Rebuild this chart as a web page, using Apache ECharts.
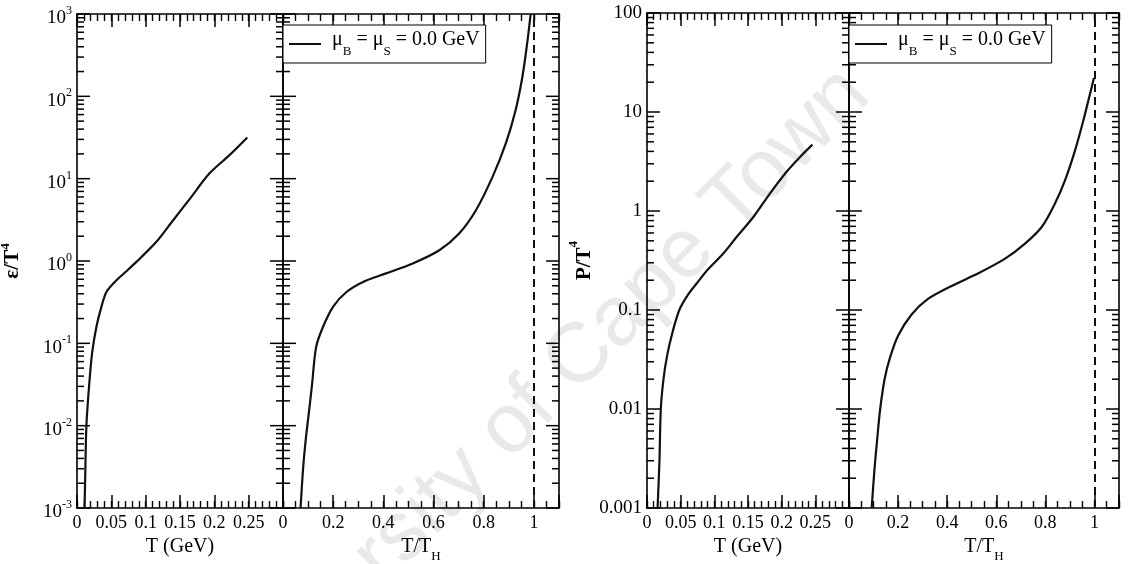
<!DOCTYPE html>
<html>
<head>
<meta charset="utf-8">
<script src="https://cdn.jsdelivr.net/npm/echarts@6/dist/echarts.min.js"></script>
<style>
html,body{margin:0;padding:0;background:#fff;}
#chart{width:1137px;height:564px;}
</style>
</head>
<body>
<div id="chart"></div>
<script>
// ---------------- data ----------------
// (a) HRGM, energy density eps/T^4 vs T (GeV)
const epsHrgmT = [0.011, 0.012, 0.0137, 0.0175, 0.0219, 0.0282, 0.0355, 0.0428, 0.055, 0.067, 0.0865, 0.1156, 0.14, 0.164, 0.193, 0.222, 0.248];
const epsHrgm  = [0.001, 0.0025, 0.01, 0.0295, 0.075, 0.158, 0.277, 0.42, 0.557, 0.69, 0.975, 1.71, 3.13, 5.64, 11.6, 19.3, 31.7];
// (b) EHRGM, eps/T^4 vs T/T_H
const epsEhrgmU = [0.070, 0.080, 0.090, 0.100, 0.115, 0.132, 0.160, 0.200, 0.253, 0.319, 0.411, 0.517, 0.623, 0.702, 0.769, 0.835, 0.888, 0.927, 0.954, 0.973, 0.987];
const epsEhrgm  = [0.001, 0.003, 0.0065, 0.012, 0.03, 0.09, 0.16, 0.28, 0.42, 0.557, 0.707, 0.933, 1.35, 2.16, 4.14, 10.5, 26.8, 67.9, 172, 437, 1000];
// (a) HRGM, pressure P/T^4 vs T (GeV)
const pHrgmT = [0.0157, 0.0185, 0.0205, 0.0245, 0.030, 0.038, 0.048, 0.060, 0.075, 0.090, 0.113, 0.133, 0.158, 0.1825, 0.207, 0.227, 0.2457];
const pHrgm  = [0.001, 0.003, 0.01, 0.02, 0.035, 0.06, 0.1, 0.14, 0.19, 0.255, 0.37, 0.546, 0.87, 1.5, 2.48, 3.5, 4.68];
// (b) EHRGM, P/T^4 vs T/T_H
const pEhrgmU = [0.0924, 0.104, 0.115, 0.127, 0.145, 0.167, 0.200, 0.255, 0.323, 0.418, 0.527, 0.636, 0.717, 0.785, 0.839, 0.880, 0.921, 0.955, 0.982, 0.998];
const pEhrgm  = [0.001, 0.0025, 0.005, 0.01, 0.02, 0.033, 0.055, 0.09, 0.13, 0.175, 0.235, 0.33, 0.468, 0.689, 1.19, 2.04, 4.1, 8.24, 15.3, 22];
// Hagedorn temperature marker (T/T_H = 1)
const hagedornU = 1;

// tick labels
const xTickLabelsT = ['0', '0.05', '0.1', '0.15', '0.2', '0.25'];
const xTickLabelsU = ['0', '0.2', '0.4', '0.6', '0.8', '1'];
const epsTickExp   = ['-3', '-2', '-1', '0', '1', '2', '3'];
const pTickLabels  = ['0.001', '0.01', '0.1', '1', '10', '100'];

const seriesName = 'muB_eq_muS_0';
const legendRich = '{m|μ}{sub|B}{m| = μ}{sub|S}{m| = 0.0 GeV}';

// ---------------- layout / style ----------------
const FONT = '"Liberation Serif", "Times New Roman", serif';
const INK = '#000';
const grids = [
  {left: 77,  top: 14, width: 206, height: 494},
  {left: 283, top: 14, width: 276, height: 494},
  {left: 647, top: 13, width: 202, height: 495},
  {left: 849, top: 13, width: 270, height: 495}
];
const xExt = [[0, 0.3], [0, 1.1], [0, 0.3], [0, 1.1]];
const yExt = [[1e-3, 1e3], [1e-3, 1e3], [1e-3, 1e2], [1e-3, 1e2]];
const majInt = [0.05, 0.2, 0.05, 0.2];
const minInt = [0.01, 0.05, 0.01, 0.05];
const xLabelArr = [xTickLabelsT, xTickLabelsU, xTickLabelsT, xTickLabelsU];
// panels (b) share their left edge with panel (a): ticks drawn on both sides there
const sharedLeft = [false, true, false, true];
const MAJ = 13, MIN = 7;

function xFormatter(g) {
  return function (v) {
    const k = Math.round(v / majInt[g]);
    if (Math.abs(k * majInt[g] - v) > 1e-6) return '';
    const s = xLabelArr[g][k];
    return s === undefined ? '' : s;
  };
}

const xNameT = 'T (GeV)';
const xNameU = '{m|T/T}{sub|H}';
const xNames = [xNameT, xNameU, xNameT, xNameU];
const xNameGap = [17, 21, 17, 21];

const frameLine = {show: true, onZero: false, lineStyle: {color: INK, width: 1.6}};
const xAxes = [];
for (let g = 0; g < 4; g++) {
  const base = {
    gridIndex: g, type: 'value', min: xExt[g][0], max: xExt[g][1],
    splitLine: {show: false},
    axisLine: {show: false, onZero: false}
  };
  // bottom major (labels + name)
  xAxes.push(Object.assign({}, base, {
    position: 'bottom', interval: majInt[g],
    axisLine: frameLine,
    axisTick: {show: true, inside: true, length: MAJ, lineStyle: {color: INK, width: 1.5}},
    axisLabel: {show: true, margin: 6, color: INK, fontFamily: FONT, fontSize: 18, formatter: xFormatter(g)},
    name: xNames[g], nameLocation: 'middle', nameGap: xNameGap[g],
    nameTextStyle: {
      color: INK, fontFamily: FONT, fontSize: 20,
      rich: {
        m: {fontFamily: FONT, fontSize: 20, color: INK, lineHeight: 26, verticalAlign: 'top'},
        sub: {fontFamily: FONT, fontSize: 13, color: INK, lineHeight: 26, verticalAlign: 'bottom'}
      }
    }
  }));
  // bottom minor
  xAxes.push(Object.assign({}, base, {
    position: 'bottom', interval: minInt[g],
    axisTick: {show: true, inside: true, length: MIN, lineStyle: {color: INK, width: 1.4}},
    axisLabel: {show: false}
  }));
  // top major (frame)
  xAxes.push(Object.assign({}, base, {
    position: 'top', interval: majInt[g],
    axisLine: frameLine,
    axisTick: {show: true, inside: true, length: MAJ, lineStyle: {color: INK, width: 1.5}},
    axisLabel: {show: false}
  }));
  // top minor
  xAxes.push(Object.assign({}, base, {
    position: 'top', interval: minInt[g],
    axisTick: {show: true, inside: true, length: MIN, lineStyle: {color: INK, width: 1.4}},
    axisLabel: {show: false}
  }));
}

const yRich = {
  b: {fontFamily: FONT, fontSize: 19, color: INK, lineHeight: 28, verticalAlign: 'bottom'},
  s: {fontFamily: FONT, fontSize: 12, color: INK, lineHeight: 28, verticalAlign: 'middle', padding: [0, 0, 6, 0]}
};
const yAxes = [];
// left axes (indices 0..3)
for (let g = 0; g < 4; g++) {
  const ya = {
    gridIndex: g, type: 'log', logBase: 10, min: yExt[g][0], max: yExt[g][1],
    position: 'left',
    splitLine: {show: false},
    axisLine: frameLine,
    axisTick: {show: false},
    axisLabel: {show: false}
  };
  if (g === 0) {
    ya.axisLabel = {
      show: true, margin: 5, color: INK, fontFamily: FONT, fontSize: 19, rich: yRich,
      formatter: function (v) {
        const n = Math.round(Math.log10(v));
        return '{b|10}{s|' + epsTickExp[n + 3] + '}';
      }
    };
    ya.name = '{m|ε/T}{s|4}';
    ya.nameLocation = 'middle';
    ya.nameGap = 54;
    ya.nameRotate = 90;
    ya.nameTextStyle = {
      rich: {
        m: {fontFamily: FONT, fontSize: 21, fontWeight: 'bold', color: INK, lineHeight: 24, verticalAlign: 'bottom'},
        s: {fontFamily: FONT, fontSize: 13, fontWeight: 'bold', color: INK, lineHeight: 24, verticalAlign: 'top'}
      }
    };
  }
  if (g === 2) {
    ya.axisLabel = {
      show: true, margin: 5, color: INK, fontFamily: FONT, fontSize: 19,
      formatter: function (v) {
        const n = Math.round(Math.log10(v));
        return pTickLabels[n + 3] || '';
      }
    };
    ya.name = '{m|P/T}{s|4}';
    ya.nameLocation = 'middle';
    ya.nameGap = 50;
    ya.nameRotate = 90;
    ya.nameTextStyle = {
      rich: {
        m: {fontFamily: FONT, fontSize: 21, fontWeight: 'bold', color: INK, lineHeight: 28, verticalAlign: 'bottom'},
        s: {fontFamily: FONT, fontSize: 13, fontWeight: 'bold', color: INK, lineHeight: 28, verticalAlign: 'top'}
      }
    };
  }
  yAxes.push(ya);
}
// right axes (indices 4..7), frame only
for (let g = 0; g < 4; g++) {
  yAxes.push({
    gridIndex: g, type: 'log', logBase: 10, min: yExt[g][0], max: yExt[g][1],
    position: 'right',
    splitLine: {show: false},
    axisLine: frameLine,
    axisTick: {show: false},
    axisLabel: {show: false}
  });
}

// log-axis tick data (major at decades, minor at 2..9 x decade)
function logTickData(g) {
  const lo = Math.round(Math.log10(yExt[g][0]));
  const hi = Math.round(Math.log10(yExt[g][1]));
  const out = [];
  for (let n = lo; n <= hi; n++) {
    for (let k = 1; k <= 9; k++) {
      const v = k * Math.pow(10, n);
      if (v > yExt[g][1] * 1.0001) break;
      out.push([xExt[g][0], v, k === 1 ? 1 : 0]);
    }
  }
  return out;
}

function tickSeries(g) {
  return {
    type: 'custom', name: 'ticks' + g, xAxisIndex: 4 * g, yAxisIndex: g,
    silent: true, z: 3,
    data: logTickData(g),
    renderItem: function (params, api) {
      const yv = api.value(1);
      const len = api.value(2) ? MAJ : MIN;
      const L = api.coord([xExt[g][0], yv]);
      const st = {stroke: INK, lineWidth: 1.5};
      const children = [];
      if (sharedLeft[g]) {
        const R = api.coord([xExt[g][1], yv]);
        children.push({type: 'line', shape: {x1: L[0] - len, y1: L[1], x2: L[0] + len, y2: L[1]}, style: st});
        children.push({type: 'line', shape: {x1: R[0] - len, y1: R[1], x2: R[0], y2: R[1]}, style: st});
      } else {
        children.push({type: 'line', shape: {x1: L[0], y1: L[1], x2: L[0] + len, y2: L[1]}, style: st});
      }
      return {type: 'group', children: children};
    }
  };
}

function zip(a, b) { return a.map((v, i) => [v, b[i]]); }

function curve(g, xs, ys, withMark) {
  const s = {
    type: 'line', name: seriesName, xAxisIndex: 4 * g, yAxisIndex: g,
    data: zip(xs, ys), symbol: 'none', smooth: 0.3, clip: true,
    lineStyle: {color: '#111', width: 2.2}, itemStyle: {color: '#111'}, z: 4
  };
  if (withMark) {
    s.markLine = {
      silent: true, symbol: 'none', label: {show: false},
      lineStyle: {color: '#111', width: 2, type: [8, 5]},
      data: [{xAxis: hagedornU}]
    };
  }
  return s;
}

const legendCommon = {
  data: [{name: seriesName, icon: 'rect'}],
  orient: 'horizontal',
  backgroundColor: '#fff', borderColor: INK, borderWidth: 1,
  padding: [5, 6, 5, 6],
  itemWidth: 32, itemHeight: 2,
  selectedMode: false,
  formatter: function () { return legendRich; },
  textStyle: {
    fontFamily: FONT, color: INK, padding: [0, 0, 0, 6],
    rich: {
      m: {fontFamily: FONT, fontSize: 20, color: INK, lineHeight: 28, verticalAlign: 'top'},
      sub: {fontFamily: FONT, fontSize: 13, color: INK, lineHeight: 26, verticalAlign: 'bottom'}
    }
  },
  z: 5
};

const option = {
  backgroundColor: '#fff',
  animation: false,
  grid: grids.map(g => Object.assign({show: false, outerBoundsMode: 'none', containLabel: false}, g)),
  xAxis: xAxes,
  yAxis: yAxes,
  legend: [
    Object.assign({}, legendCommon, {left: 283, top: 25}),
    Object.assign({}, legendCommon, {left: 849, top: 25})
  ],
  graphic: [
    {
      type: 'text', x: 536, y: 402, rotation: Math.PI / 4, z: -10, silent: true,
      style: {
        text: 'University of Cape Town', font: '84px "Liberation Sans", Arial, sans-serif',
        fill: '#e9e9e9', align: 'center', verticalAlign: 'middle',
        textAlign: 'center', textVerticalAlign: 'middle'
      }
    }
  ],
  series: [
    tickSeries(0), tickSeries(1), tickSeries(2), tickSeries(3),
    curve(0, epsHrgmT, epsHrgm, false),
    curve(1, epsEhrgmU, epsEhrgm, true),
    curve(2, pHrgmT, pHrgm, false),
    curve(3, pEhrgmU, pEhrgm, true)
  ]
};

const chart = echarts.init(document.getElementById('chart'), null, {renderer: 'canvas'});
chart.setOption(option);
</script>
</body>
</html>
